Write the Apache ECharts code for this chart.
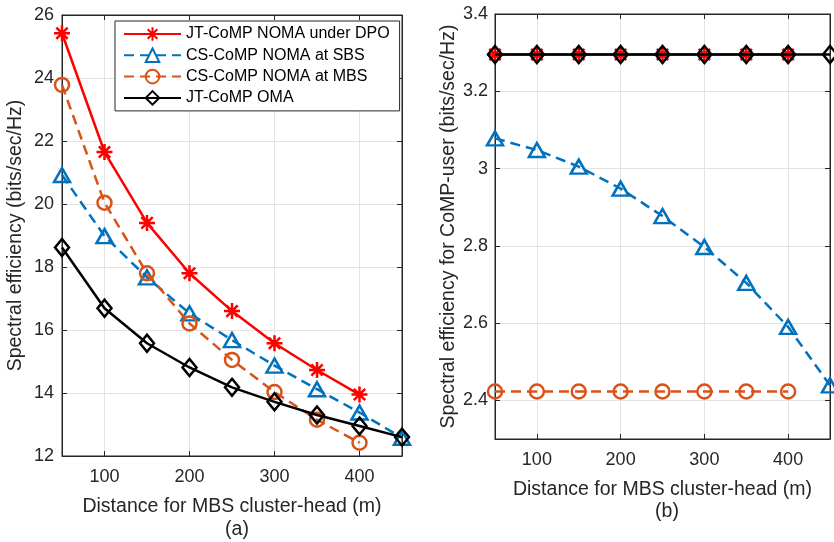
<!DOCTYPE html>
<html>
<head>
<meta charset="utf-8">
<script src="https://cdn.jsdelivr.net/npm/echarts@6/dist/echarts.min.js"></script>
<style>
html,body{margin:0;padding:0;background:#fff;}
#chart{width:834px;height:542px;}
</style>
</head>
<body>
<div id="chart"></div>
<script>
// ---- data ----
const xDist = [50, 100, 150, 200, 250, 300, 350, 400, 450];
const xTickValues = [100, 200, 300, 400];
const yTickValuesB = [2.4, 2.6, 2.8, 3.0, 3.2, 3.4];
const seriesNames = ['JT-CoMP NOMA under DPO', 'CS-CoMP NOMA at SBS', 'CS-CoMP NOMA at MBS', 'JT-CoMP OMA'];

// panel (a)
const jtNomaDpoA = [25.42, 21.65, 19.40, 17.80, 16.60, 15.58, 14.73, 13.95];
const csSbsA     = [20.92, 18.98, 17.67, 16.53, 15.68, 14.87, 14.12, 13.38, 12.58];
const csMbsA     = [23.78, 20.04, 17.80, 16.21, 15.05, 14.03, 13.15, 12.42];
const jtOmaA     = [18.62, 16.69, 15.58, 14.81, 14.18, 13.72, 13.30, 12.95, 12.60];

// panel (b)
const jtNomaDpoB = [3.295, 3.295, 3.295, 3.295, 3.295, 3.295, 3.295, 3.295];
const csSbsB     = [3.078, 3.048, 3.005, 2.948, 2.877, 2.797, 2.704, 2.590, 2.439];
const csMbsB     = [2.423, 2.423, 2.423, 2.423, 2.423, 2.423, 2.423, 2.423];
const jtOmaB     = [3.295, 3.295, 3.295, 3.295, 3.295, 3.295, 3.295, 3.295, 3.295];

const panelTitles = ['(a)', '(b)'];
const xName = 'Distance for MBS cluster-head (m)';
const yNameA = 'Spectral efficiency (bits/sec/Hz)';
const yNameB = 'Spectral efficiency for CoMP-user (bits/sec/Hz)';

// ---- styles ----
const FONT = "'Liberation Sans', Arial, Helvetica, sans-serif";
const TXT = '#262626';
const GRIDC = '#E3E3E3';
const RED = '#FF0000', BLUE = '#0072BD', ORANGE = '#D95319', BLACK = '#000000';
const STAR = 'path://M0,5L10,5M5,0L5,10M1.46,1.46L8.54,8.54M1.46,8.54L8.54,1.46';

function pairs(arr) { return arr.map((v, i) => [xDist[i], v]); }

const styles = [
  { color: RED, symbol: STAR, size: 16, type: 'solid' },
  { color: BLUE, symbol: 'triangle', size: [16, 14], type: [10, 6] },
  { color: ORANGE, symbol: 'circle', size: 14, type: [10, 6] },
  { color: BLACK, symbol: 'diamond', size: [14, 17], type: 'solid' }
];

function mkSeries(idx, arr, xi, yi) {
  const s = styles[idx];
  return {
    name: seriesNames[idx],
    type: 'line',
    xAxisIndex: xi,
    yAxisIndex: yi,
    data: pairs(arr),
    symbol: s.symbol,
    symbolSize: s.size,
    showAllSymbol: true,
    clip: false,
    lineStyle: { color: s.color, width: 2.5, type: s.type },
    itemStyle: { color: 'rgba(255,255,255,0)', borderColor: s.color, borderWidth: 2.5 },
    emphasis: { disabled: true },
    animation: false,
    z: 2 + idx
  };
}

function mainX(gi) {
  return {
    type: 'value', gridIndex: gi, min: 50, max: 450,
    name: xName, nameLocation: 'middle', nameGap: 41,
    nameTextStyle: { fontFamily: FONT, fontSize: 19.5, color: TXT },
    axisLine: { show: true, onZero: false, lineStyle: { color: TXT, width: 1 } },
    axisTick: { show: true, inside: true, length: 5, customValues: xTickValues, lineStyle: { color: TXT } },
    axisLabel: { customValues: xTickValues, fontFamily: FONT, fontSize: 18, color: TXT, margin: 12 },
    splitLine: { show: true, lineStyle: { color: GRIDC, width: 1 } }
  };
}
function topX(gi) {
  return {
    type: 'value', gridIndex: gi, min: 50, max: 450, position: 'top',
    axisLine: { show: true, onZero: false, lineStyle: { color: TXT, width: 1 } },
    axisTick: { show: true, inside: true, length: 5, customValues: xTickValues, lineStyle: { color: TXT } },
    axisLabel: { show: false },
    splitLine: { show: false }
  };
}

const option = {
  backgroundColor: '#fff',
  animation: false,
  textStyle: { fontFamily: FONT },
  title: [
    { text: panelTitles[0], left: 232, top: 515, textAlign: 'center',
      textStyle: { fontFamily: FONT, fontSize: 19.5, fontWeight: 'normal', color: TXT } },
    { text: panelTitles[1], left: 662, top: 497, textAlign: 'center',
      textStyle: { fontFamily: FONT, fontSize: 19.5, fontWeight: 'normal', color: TXT } }
  ],
  legend: {
    data: seriesNames,
    orient: 'vertical',
    left: 115, top: 21,
    padding: [5, 10, 5, 8],
    itemWidth: 57, itemHeight: 17, itemGap: 5.3,
    backgroundColor: '#fff',
    borderColor: TXT, borderWidth: 1, borderRadius: 0,
    selectedMode: false,
    textStyle: { fontFamily: FONT, fontSize: 16, color: '#000' }
  },
  grid: [
    { left: 62, top: 15, width: 340, height: 441, show: true, borderColor: TXT, borderWidth: 1, backgroundColor: 'transparent' },
    { left: 495, top: 14, width: 335, height: 425, show: true, borderColor: TXT, borderWidth: 1, backgroundColor: 'transparent' }
  ],
  xAxis: [mainX(0), mainX(1), topX(0), topX(1)],
  yAxis: [
    {
      type: 'value', gridIndex: 0, min: 12, max: 26, interval: 2,
      name: yNameA, nameLocation: 'middle', nameGap: 36, nameRotate: 90,
      nameTextStyle: { fontFamily: FONT, fontSize: 19.5, color: TXT },
      axisLine: { show: true, onZero: false, lineStyle: { color: TXT, width: 1 } },
      axisTick: { show: true, inside: true, length: 5, lineStyle: { color: TXT } },
      axisLabel: { fontFamily: FONT, fontSize: 18, color: TXT, margin: 8 },
      splitLine: { show: true, lineStyle: { color: GRIDC, width: 1 } }
    },
    {
      type: 'value', gridIndex: 1, min: 2.3, max: 3.4,
      name: yNameB, nameLocation: 'middle', nameGap: 36, nameRotate: 90,
      nameTextStyle: { fontFamily: FONT, fontSize: 19.5, color: TXT },
      axisLine: { show: true, onZero: false, lineStyle: { color: TXT, width: 1 } },
      axisTick: { show: true, inside: true, length: 5, customValues: yTickValuesB, lineStyle: { color: TXT } },
      axisLabel: { customValues: yTickValuesB, fontFamily: FONT, fontSize: 18, color: TXT, margin: 7,
                   formatter: v => String(Math.round(v * 10) / 10) },
      splitLine: { show: true, lineStyle: { color: GRIDC, width: 1 } }
    },
    {
      type: 'value', gridIndex: 0, min: 12, max: 26, interval: 2, position: 'right',
      axisLine: { show: true, onZero: false, lineStyle: { color: TXT, width: 1 } },
      axisTick: { show: true, inside: true, length: 5, lineStyle: { color: TXT } },
      axisLabel: { show: false }, splitLine: { show: false }
    },
    {
      type: 'value', gridIndex: 1, min: 2.3, max: 3.4, position: 'right',
      axisLine: { show: true, onZero: false, lineStyle: { color: TXT, width: 1 } },
      axisTick: { show: true, inside: true, length: 5, customValues: yTickValuesB, lineStyle: { color: TXT } },
      axisLabel: { show: false }, splitLine: { show: false }
    }
  ],
  series: [
    mkSeries(0, jtNomaDpoA, 0, 0),
    mkSeries(1, csSbsA, 0, 0),
    mkSeries(2, csMbsA, 0, 0),
    mkSeries(3, jtOmaA, 0, 0),
    mkSeries(0, jtNomaDpoB, 1, 1),
    mkSeries(1, csSbsB, 1, 1),
    mkSeries(2, csMbsB, 1, 1),
    mkSeries(3, jtOmaB, 1, 1)
  ]
};

const chart = echarts.init(document.getElementById('chart'), null, { renderer: 'canvas' });
chart.setOption(option);
</script>
</body>
</html>
